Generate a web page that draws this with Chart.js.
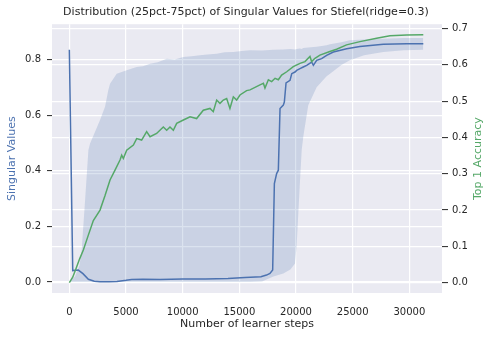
<!DOCTYPE html>
<html>
<head>
<meta charset="utf-8">
<script src="https://cdn.jsdelivr.net/npm/chart.js@4"></script>
<style>
  body { margin: 0; background: #ffffff; }
  canvas { display: block; }
</style>
</head>
<body>
<canvas id="grafico" width="492" height="338"></canvas>
<script>
// dados
const medSteps = [0, 300, 790, 1200, 1680, 2200, 2700, 3500, 4200, 5000, 5500, 6500, 8000, 10000, 12000, 14000, 15500, 16900, 17400, 17700, 17940, 18090, 18290, 18440, 18590, 18880, 18970, 19120, 19470, 19620, 19910, 20060, 20350, 20640, 20940, 21380, 21530, 21820, 22260, 22700, 23290, 24470, 25640, 27700, 29760, 31230];
const medVals = [0.835, 0.041, 0.043, 0.03, 0.01, 0.003, 0.001, 0.001, 0.002, 0.006, 0.009, 0.01, 0.009, 0.011, 0.011, 0.013, 0.016, 0.019, 0.025, 0.031, 0.043, 0.354, 0.39, 0.402, 0.624, 0.636, 0.647, 0.716, 0.725, 0.749, 0.755, 0.761, 0.767, 0.773, 0.779, 0.791, 0.779, 0.797, 0.803, 0.815, 0.827, 0.839, 0.847, 0.855, 0.857, 0.857];

const bandSteps = [0, 500, 900, 1090, 1400, 1680, 1830, 2270, 2700, 3150, 3440, 3590, 4180, 5060, 5940, 6500, 7120, 7800, 8590, 9300, 10060, 10800, 11530, 12200, 13000, 13700, 14470, 15200, 15940, 17000, 18000, 18880, 19500, 19910, 20050, 20340, 20500, 20640, 21080, 21820, 22700, 23000, 24000, 24750, 26000, 27700, 29500, 31230];
const bandHigh = [0.0, 0.02, 0.06, 0.115, 0.30, 0.474, 0.498, 0.54, 0.582, 0.63, 0.69, 0.713, 0.749, 0.761, 0.773, 0.776, 0.785, 0.79, 0.803, 0.80, 0.809, 0.812, 0.815, 0.818, 0.821, 0.826, 0.827, 0.831, 0.833, 0.832, 0.835, 0.836, 0.838, 0.836, 0.838, 0.84, 0.838, 0.841, 0.843, 0.846, 0.851, 0.855, 0.862, 0.869, 0.872, 0.875, 0.877, 0.877];
const bandLow = [0.0, 0.0, 0.0, 0.0, 0.0, 0.0, 0.0, 0.0, 0.0, 0.0, 0.0, 0.0, 0.0, 0.0, 0.0, 0.0, 0.0, 0.0, 0.0, 0.0, 0.0, 0.0, 0.0, 0.0, 0.0, 0.0, 0.0, 0.0, 0.0, 0.002, 0.02, 0.031, 0.045, 0.067, 0.127, 0.355, 0.474, 0.522, 0.636, 0.70, 0.74, 0.749, 0.78, 0.797, 0.815, 0.827, 0.833, 0.835];

const accSteps = [0, 300, 600, 900, 1235, 1676, 2117, 2708, 3150, 3590, 4030, 4470, 4620, 4765, 5060, 5650, 5940, 6380, 6820, 7120, 7700, 8290, 8590, 8880, 9175, 9470, 10060, 10650, 11230, 11820, 12410, 12700, 13000, 13290, 13585, 13880, 14170, 14470, 14760, 15055, 15640, 15940, 16820, 17120, 17260, 17560, 17850, 18150, 18440, 18730, 19180, 19760, 20350, 20790, 21230, 21380, 21670, 22110, 22990, 23580, 24460, 25640, 27110, 28290, 29760, 31230];
const accVals = [0, 0.015, 0.04, 0.065, 0.09, 0.131, 0.171, 0.2, 0.24, 0.283, 0.31, 0.338, 0.351, 0.342, 0.365, 0.379, 0.397, 0.393, 0.416, 0.402, 0.411, 0.429, 0.42, 0.429, 0.42, 0.439, 0.448, 0.457, 0.452, 0.475, 0.48, 0.471, 0.503, 0.494, 0.503, 0.507, 0.48, 0.512, 0.503, 0.517, 0.529, 0.531, 0.545, 0.549, 0.536, 0.559, 0.554, 0.563, 0.559, 0.572, 0.581, 0.595, 0.604, 0.609, 0.623, 0.609, 0.618, 0.627, 0.637, 0.643, 0.655, 0.664, 0.673, 0.68, 0.682, 0.683];

const xTicks = [0, 5000, 10000, 15000, 20000, 25000, 30000];
const yTicks = [0.0, 0.2, 0.4, 0.6, 0.8];
const y2Ticks = [0.0, 0.1, 0.2, 0.3, 0.4, 0.5, 0.6, 0.7];

const AZUL = '#4C72B0';
const VERDE = '#55A868';
const TEXTO = '#262626';
const FONTE = 'DejaVu Sans';

function pontos(xs, ys) {
    return xs.map((x, i) => ({ x: x, y: ys[i] }));
}

// fundo cinza da área do gráfico + título do eixo direito
const fundo = {
    id: 'fundo',
    beforeDraw(chart) {
        const { ctx, chartArea: a } = chart;
        ctx.save();
        ctx.fillStyle = '#EAEAF2';
        ctx.fillRect(a.left, a.top, a.right - a.left, a.bottom - a.top);
        ctx.restore();
    },
    afterDraw(chart) {
        const { ctx, chartArea: a } = chart;
        ctx.save();
        ctx.translate(478, (a.top + a.bottom) / 2);
        ctx.rotate(-Math.PI / 2);
        ctx.font = '11px "' + FONTE + '"';
        ctx.fillStyle = VERDE;
        ctx.textAlign = 'center';
        ctx.textBaseline = 'middle';
        ctx.fillText('Top 1 Accuracy', 0, 0);
        ctx.restore();
    }
};

new Chart(document.getElementById('grafico'), {
    type: 'line',
    data: {
        datasets: [
            { data: pontos(accSteps, accVals), yAxisID: 'y2', borderColor: VERDE, borderWidth: 1.5, pointRadius: 0, fill: false, order: 0 },
            { data: pontos(medSteps, medVals), yAxisID: 'y', borderColor: AZUL, borderWidth: 1.5, pointRadius: 0, fill: false, order: 1 },
            { data: pontos(bandSteps, bandLow), yAxisID: 'y', borderWidth: 0, borderColor: 'rgba(0,0,0,0)', pointRadius: 0, fill: false, order: 2 },
            { data: pontos(bandSteps, bandHigh), yAxisID: 'y', borderWidth: 0, borderColor: 'rgba(0,0,0,0)', pointRadius: 0, fill: '-1', backgroundColor: 'rgba(76,114,176,0.2)', order: 3 }
        ]
    },
    options: {
        responsive: false,
        animation: false,
        layout: { padding: 0 },
        plugins: {
            legend: { display: false },
            tooltip: { enabled: false },
            title: {
                display: true,
                text: 'Distribution (25pct-75pct) of Singular Values for Stiefel(ridge=0.3)',
                color: TEXTO,
                font: { family: FONTE, size: 11, weight: 'normal' },
                padding: { top: 6, bottom: 5 }
            }
        },
        scales: {
            x: {
                type: 'linear',
                min: -1530,
                max: 32880,
                afterBuildTicks: axis => { axis.ticks = xTicks.map(v => ({ value: v })); },
                afterFit: s => { s.height = 45; },
                border: { display: false },
                grid: { color: '#ffffff', lineWidth: 1.2, drawTicks: false },
                ticks: { color: TEXTO, font: { family: FONTE, size: 10 }, padding: 13, autoSkip: false, maxRotation: 0, callback: v => String(v) },
                title: { display: true, text: 'Number of learner steps', color: TEXTO, font: { family: FONTE, size: 11 }, padding: { top: 0, bottom: 7 } }
            },
            y: {
                position: 'left',
                min: -0.0395,
                max: 0.927,
                afterBuildTicks: axis => { axis.ticks = yTicks.map(v => ({ value: v })); },
                afterFit: s => { s.width = 52; },
                border: { display: false },
                grid: { color: '#ffffff', lineWidth: 1.2, tickLength: 5, tickColor: TEXTO, tickWidth: 1 },
                ticks: { color: TEXTO, font: { family: FONTE, size: 10 }, padding: 6, callback: v => v.toFixed(1) },
                title: { display: true, text: 'Singular Values', color: AZUL, font: { family: FONTE, size: 11 }, padding: { top: 6, bottom: 0 } }
            },
            y2: {
                position: 'right',
                min: -0.0284,
                max: 0.712,
                afterBuildTicks: axis => { axis.ticks = y2Ticks.map(v => ({ value: v })); },
                afterFit: s => { s.width = 50; },
                border: { display: false },
                grid: { color: '#ffffff', lineWidth: 1.2, tickLength: 6, tickColor: TEXTO, tickWidth: 1 },
                ticks: { color: TEXTO, font: { family: FONTE, size: 10 }, padding: 4, callback: v => v.toFixed(1) }
            }
        }
    },
    plugins: [fundo]
});
</script>
</body>
</html>
